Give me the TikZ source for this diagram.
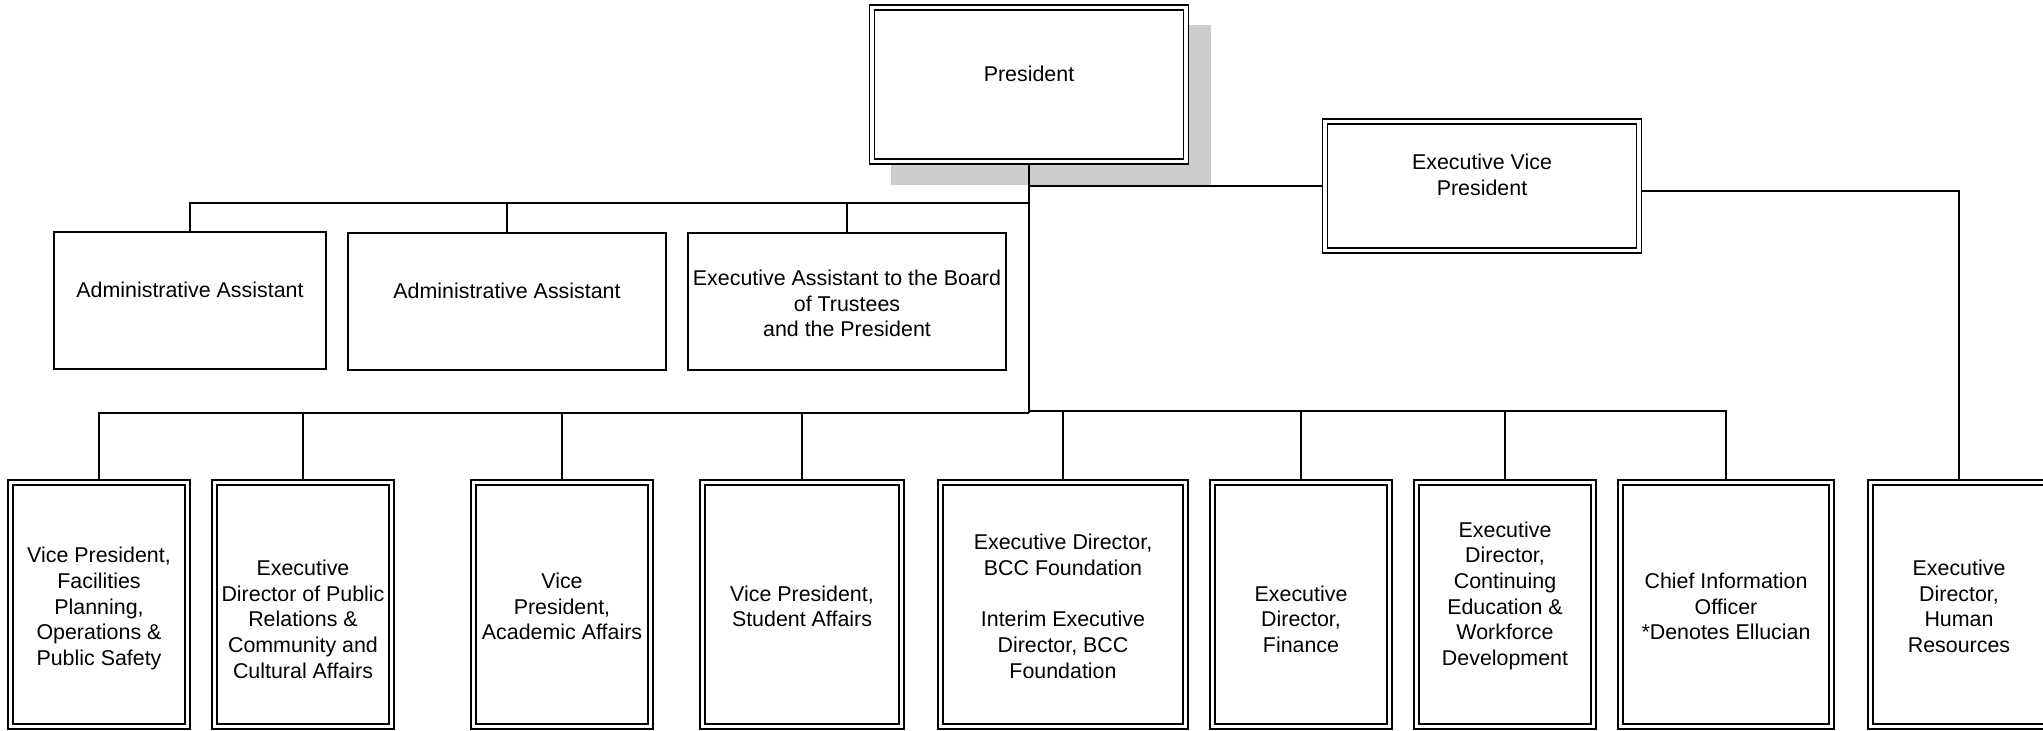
\documentclass[tikz,border=0pt]{standalone}
\usepackage{fontspec}
\setmainfont{Liberation Sans}
\usetikzlibrary{shadows}
\definecolor{shadowgray}{RGB}{204,204,204}
\newcommand{\boxtext}[1]{\begin{tabular}{@{}c@{}}\rule{0pt}{13.5pt}#1\end{tabular}}

\begin{document}
\begin{tikzpicture}[x=0.5pt, y=-0.5pt,
   post/.style={draw=black, line width=0.7pt, fill=white, inner sep=0pt,
      font=\fontsize{10.7}{12.85}\selectfont},
   head/.style={post, double, double distance=1.8pt, outer sep=1.6pt},
   unit/.style={head, minimum width=88.5pt, minimum height=122pt},
   link/.style={line width=0.7pt}]

   \path[use as bounding box] (0,0) rectangle (2043,731);
   \clip (0,0) rectangle (2043,731);

   \node[head, minimum width=157pt, minimum height=77pt,
      drop shadow={shadow xshift=11pt, shadow yshift=-10.5pt, fill=shadowgray,
         draw=shadowgray, line width=3pt, opacity=1}]
      (1) at (1029,84.5) {\boxtext{President\\ \\}};
   \node[head, minimum width=157pt, minimum height=64.5pt] (2) at (1482,186) {\boxtext{Executive Vice\\President\\ \\}};

   \node[post, minimum width=136pt, minimum height=68.5pt] (3) at (190,300.5) {\boxtext{Administrative Assistant\\ \\}};
   \node[post, minimum width=159pt, minimum height=68.5pt] (4) at (507,301.5) {\boxtext{Administrative Assistant\\ \\}};
   \node[post, minimum width=159pt, minimum height=68.5pt] (5) at (847,301.5) {\boxtext{Executive Assistant to the Board\\of Trustees\\and the President}};

   \node[unit] (6) at (99,604.5) {\boxtext{Vice President,\\Facilities\\Planning,\\Operations \&\\Public Safety}};
   \node[unit] (7) at (303,604.5) {\boxtext{\\Executive\\Director of Public\\Relations \&\\Community and\\Cultural Affairs}};
   \node[unit] (8) at (562,604.5) {\boxtext{Vice\\President,\\Academic Affairs}};
   \node[unit, minimum width=99.5pt] (9) at (802,604.5) {\boxtext{Vice President,\\Student Affairs}};
   \node[unit, minimum width=122.5pt] (10) at (1063,604.5) {\boxtext{Executive Director,\\BCC Foundation\\ \\Interim Executive\\Director, BCC\\Foundation}};
   \node[unit] (11) at (1301,604.5) {\boxtext{\\Executive\\Director,\\Finance}};
   \node[unit] (12) at (1505,604.5) {\boxtext{Executive\\Director,\\Continuing\\Education \&\\Workforce\\Development\\ \\}};
   \node[unit, minimum width=105.5pt] (13) at (1726,604.5) {\boxtext{Chief Information\\Officer\\{*}Denotes Ellucian}};
   \node[unit] (14) at (1959,604.5) {\boxtext{Executive\\Director,\\Human\\Resources}};

   \coordinate (u) at (1029,203);
   \coordinate (v) at (1029,413);
   \coordinate (w) at (1029,411);

   \draw[link] (1) -- (v);
   \draw[link] (1) |- (2);
   \draw[link] ([yshift=-2.5pt]2.east) -| (14);

   \draw[link] (u) -| (3);
   \draw[link] (u) -| (4);
   \draw[link] (u) -| (5);

   \draw[link] (v) -| (6);
   \draw[link] (v) -| (7);
   \draw[link] (v) -| (8);
   \draw[link] (v) -| (9);

   \draw[link] (w) -| (10);
   \draw[link] (w) -| (11);
   \draw[link] (w) -| (12);
   \draw[link] (w) -| (13);

\end{tikzpicture}
\end{document}
